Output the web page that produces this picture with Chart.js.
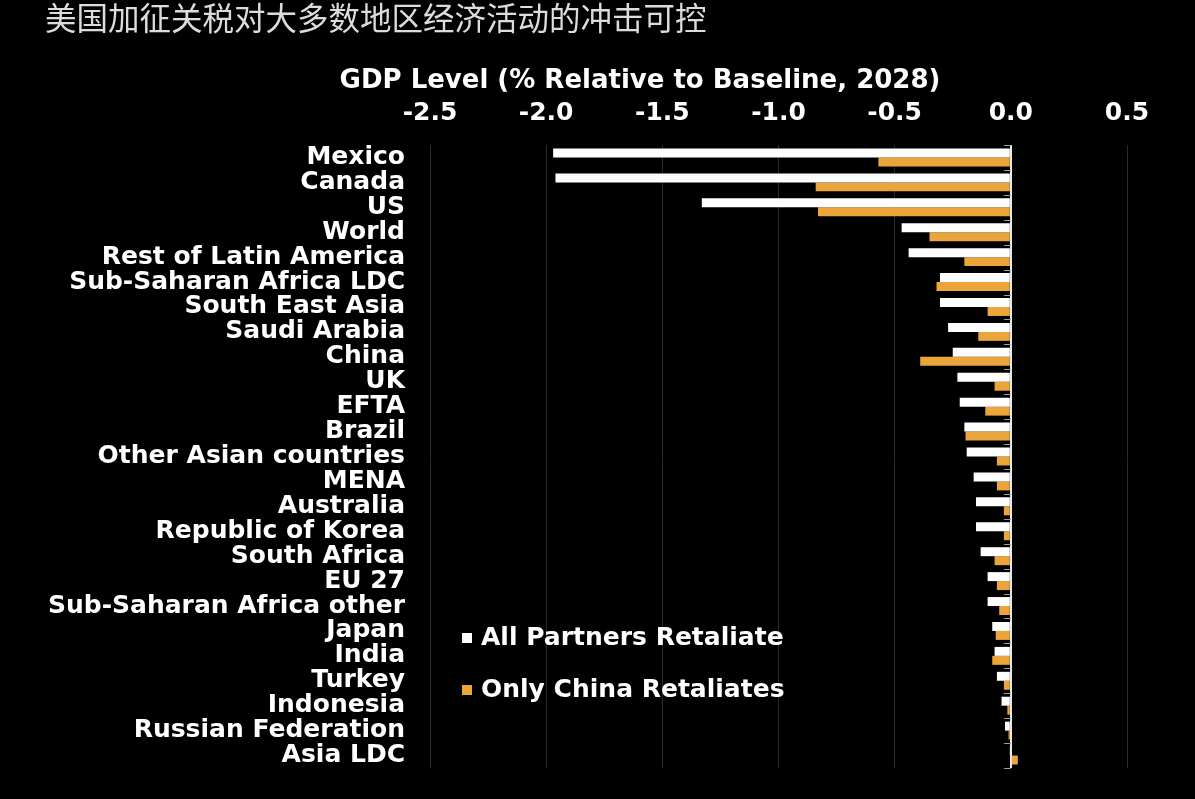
<!DOCTYPE html>
<html>
<head>
<meta charset="utf-8">
<script src="https://cdn.jsdelivr.net/npm/chart.js@4.4.1/dist/chart.umd.min.js"></script>
<style>
  html, body { margin: 0; padding: 0; background: #000; }
  #wrap { position: relative; width: 1195px; height: 799px; }
  canvas { display: block; }
</style>
</head>
<body>
<div id="wrap"><canvas id="c" width="1195" height="799"></canvas></div>
<script>
const chartTitle = "美国加征关税对大多数地区经济活动的冲击可控";
const axisTitle = "GDP Level (% Relative to Baseline, 2028)";
const categories = [
  "Mexico", "Canada", "US", "World", "Rest of Latin America",
  "Sub-Saharan Africa LDC", "South East Asia", "Saudi Arabia", "China", "UK",
  "EFTA", "Brazil", "Other Asian countries", "MENA", "Australia",
  "Republic of Korea", "South Africa", "EU 27", "Sub-Saharan Africa other", "Japan",
  "India", "Turkey", "Indonesia", "Russian Federation", "Asia LDC"
];
const seriesNames = ["All Partners Retaliate", "Only China Retaliates"];
const allPartners = [
  -1.97, -1.96, -1.33, -0.47, -0.44,
  -0.305, -0.305, -0.27, -0.25, -0.23,
  -0.22, -0.20, -0.19, -0.16, -0.15,
  -0.15, -0.13, -0.10, -0.10, -0.08,
  -0.07, -0.06, -0.04, -0.025, -0.005
];
const onlyChina = [
  -0.57, -0.84, -0.83, -0.35, -0.20,
  -0.32, -0.10, -0.14, -0.39, -0.07,
  -0.11, -0.195, -0.06, -0.06, -0.03,
  -0.03, -0.07, -0.06, -0.05, -0.065,
  -0.08, -0.03, -0.015, -0.01, 0.03
];
const xTicks = [-2.5, -2.0, -1.5, -1.0, -0.5, 0.0, 0.5];
const xTickLabels = ["-2.5", "-2.0", "-1.5", "-1.0", "-0.5", "0.0", "0.5"];
const colors = ["#ffffff", "#eca53b"];

const LABEL_FONT = { family: "'DejaVu Sans', Verdana, sans-serif", size: 25, weight: "bold" };

const overlay = {
  id: "overlay",
  beforeDraw(chart) {
    const ctx = chart.ctx;
    ctx.save();
    ctx.fillStyle = "#000";
    ctx.fillRect(0, 0, chart.width, chart.height);
    ctx.restore();
  },
  afterDraw(chart) {
    const ctx = chart.ctx;
    const area = chart.chartArea;
    const x = chart.scales.x;
    ctx.save();
    // chart title
    ctx.fillStyle = "#dcdcdc";
    ctx.font = "31.5px 'Noto Sans CJK SC'";
    ctx.textBaseline = "middle";
    ctx.textAlign = "left";
    ctx.fillText(chartTitle, 45, 18);
    // axis title
    ctx.fillStyle = "#ffffff";
    ctx.font = "bold 26px 'DejaVu Sans'";
    ctx.textAlign = "center";
    ctx.fillText(axisTitle, 640, 81);
    // small tick marks along zero line at category boundaries
    const x0 = x.getPixelForValue(0);
    ctx.strokeStyle = "#9a9a9a";
    ctx.lineWidth = 1;
    const step = (area.bottom - area.top) / categories.length;
    for (let i = 0; i <= categories.length; i++) {
      const yy = Math.round(area.top + i * step) + 0.5;
      ctx.beginPath();
      ctx.moveTo(x0 - 7, yy);
      ctx.lineTo(x0, yy);
      ctx.stroke();
    }
    // legend
    ctx.textAlign = "left";
    ctx.textBaseline = "middle";
    const legendY = [638, 690];
    for (let i = 0; i < seriesNames.length; i++) {
      ctx.fillStyle = colors[i];
      ctx.fillRect(462, legendY[i] - 5, 10, 10);
      ctx.fillStyle = "#ffffff";
      ctx.font = "bold 25px 'DejaVu Sans'";
      ctx.fillText(seriesNames[i], 481, legendY[i]);
    }
    ctx.restore();
  }
};

new Chart(document.getElementById("c"), {
  type: "bar",
  data: {
    labels: categories,
    datasets: [
      { label: seriesNames[0], data: allPartners, backgroundColor: colors[0], borderWidth: 0 },
      { label: seriesNames[1], data: onlyChina, backgroundColor: colors[1], borderWidth: 0 }
    ]
  },
  options: {
    indexAxis: "y",
    responsive: false,
    animation: false,
    devicePixelRatio: 1,
    layout: { padding: { top: 0, left: 0, right: 68, bottom: 31 } },
    datasets: { bar: { categoryPercentage: 0.72, barPercentage: 1.0 } },
    plugins: {
      legend: { display: false },
      title: { display: false },
      tooltip: { enabled: false }
    },
    scales: {
      x: {
        type: "linear",
        position: "top",
        min: -2.5,
        max: 0.5,
        afterBuildTicks(scale) {
          scale.ticks = xTicks.map(v => ({ value: v }));
        },
        afterFit(scale) { scale.height = 145; scale.paddingLeft = 0; scale.paddingRight = 0; },
        ticks: {
          color: "#ffffff",
          font: LABEL_FONT,
          padding: 17,
          maxRotation: 0,
          callback(value) {
            const i = xTicks.findIndex(t => Math.abs(t - value) < 1e-9);
            return i >= 0 ? xTickLabels[i] : "";
          }
        },
        grid: {
          drawTicks: false,
          color(ctx) { return ctx.tick && Math.abs(ctx.tick.value) < 1e-9 ? "#e8e8e8" : "#2b2b2b"; },
          lineWidth(ctx) { return ctx.tick && Math.abs(ctx.tick.value) < 1e-9 ? 2 : 1; }
        },
        border: { display: false }
      },
      y: {
        type: "category",
        afterFit(scale) { scale.width = 430; scale.paddingTop = 0; scale.paddingBottom = 0; },
        ticks: {
          color: "#ffffff",
          font: LABEL_FONT,
          autoSkip: false,
          padding: 25
        },
        grid: { display: false, drawTicks: false },
        border: { display: false }
      }
    }
  },
  plugins: [overlay]
});
</script>
</body>
</html>
